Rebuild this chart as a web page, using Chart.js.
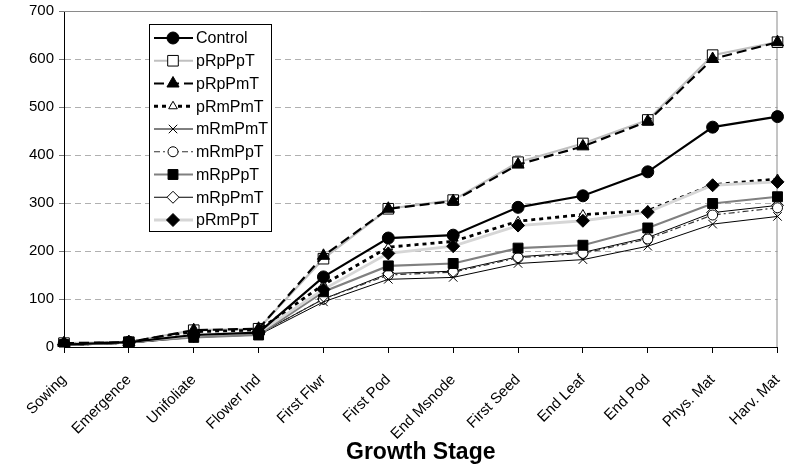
<!DOCTYPE html>
<html>
<head>
<meta charset="utf-8">
<script src="https://cdn.jsdelivr.net/npm/chart.js@4/dist/chart.umd.min.js"></script>
<style>
  html, body { margin: 0; padding: 0; background: #fff; }
  #wrap { width: 786px; height: 464px; }
</style>
</head>
<body>
<div id="wrap"><canvas id="growthChart" width="786" height="464"></canvas></div>
<script>
// growth stages along the x axis
var stages = ["Sowing", "Emergence", "Unifoliate", "Flower Ind", "First Flwr", "First Pod",
              "End Msnode", "First Seed", "End Leaf", "End Pod", "Phys. Mat", "Harv. Mat"];

// values, one array per treatment
var control = [5, 10, 25, 30, 146, 227, 233, 291, 315, 365, 458, 480];
var pRpPpT  = [8, 10, 35, 38, 184, 288, 306, 385, 424, 473, 608, 635];
var pRpPmT  = [8, 10, 35, 38, 190, 288, 304, 380, 418, 470, 600, 635];
var pRmPmT  = [5, 10, 32, 35, 130, 208, 220, 262, 276, 284, 338, 350];
var mRmPmT  = [3, 8, 20, 25, 94, 141, 145, 174, 182, 210, 256, 272];
var mRmPpT  = [3, 8, 22, 27, 100, 150, 156, 186, 195, 225, 275, 290];
var mRpPpT  = [5, 10, 20, 25, 115, 169, 174, 206, 212, 248, 299, 313];
var mRpPmT  = [3, 8, 22, 27, 100, 153, 158, 188, 197, 228, 280, 295];
var pRmPpT  = [5, 10, 25, 30, 120, 195, 210, 253, 263, 281, 337, 344];

var yTicks = [0, 100, 200, 300, 400, 500, 600, 700];

var FONT = "'Liberation Sans', Arial, sans-serif";

function series(label, data, o) {
    return {
        label: label,
        data: data,
        borderColor: o.color,
        borderWidth: o.width,
        borderDash: o.dash || [],
        pointStyle: o.point,
        pointRadius: o.radius,
        pointHoverRadius: o.radius,
        pointBackgroundColor: o.fill,
        pointBorderColor: "#000",
        pointBorderWidth: 1,
        fill: false,
        tension: 0,
        order: o.order
    };
}

var datasets = [
    series("Control", control, {color: "#000", width: 2.2, point: "circle", radius: 6, fill: "#000", order: 0}),
    series("pRpPpT", pRpPpT, {color: "#c0c0c0", width: 2.2, point: "rect", radius: 7.5, fill: "#fff", order: 5}),
    series("pRpPmT", pRpPmT, {color: "#000", width: 2.2, dash: [10, 5], point: "triangle", radius: 7, fill: "#000", order: 1}),
    series("pRmPmT", pRmPmT, {color: "#000", width: 2.8, dash: [4, 4], point: "triangle", radius: 5, fill: "#fff", order: 4}),
    series("mRmPmT", mRmPmT, {color: "#000", width: 1, point: "crossRot", radius: 6, fill: "#000", order: 6}),
    series("mRmPpT", mRmPpT, {color: "#333", width: 1.2, dash: [6, 3, 2, 3], point: "circle", radius: 5, fill: "#fff", order: 7}),
    series("mRpPpT", mRpPpT, {color: "#808080", width: 2.2, point: "rect", radius: 7, fill: "#000", order: 3}),
    series("mRpPmT", mRpPmT, {color: "#000", width: 1, point: "rectRot", radius: 6, fill: "#fff", order: 8}),
    series("pRmPpT", pRmPpT, {color: "#d6d6d6", width: 2.8, point: "rectRot", radius: 6.5, fill: "#000", order: 2})
];

// legend box drawn inside the plot, line sample with marker in the middle
var boxLegend = {
    id: "boxLegend",
    afterDraw: function(chart) {
        var ctx = chart.ctx;
        var x0 = 149, y0 = 24, w = 122, h = 207, rowH = 22.75;
        ctx.save();
        ctx.fillStyle = "#fff";
        ctx.fillRect(x0, y0, w, h);
        ctx.strokeStyle = "#000";
        ctx.lineWidth = 1;
        ctx.strokeRect(x0 + 0.5, y0 + 0.5, w, h);
        ctx.font = "16px " + FONT;
        ctx.textBaseline = "middle";
        chart.data.datasets.forEach(function(ds, i) {
            var y = y0 + 14 + i * rowH;
            ctx.save();
            ctx.strokeStyle = ds.borderColor;
            ctx.lineWidth = ds.borderWidth;
            ctx.setLineDash(ds.borderDash);
            ctx.beginPath();
            ctx.moveTo(154, y);
            ctx.lineTo(193, y);
            ctx.stroke();
            ctx.restore();
            ctx.save();
            ctx.fillStyle = ds.pointBackgroundColor;
            ctx.strokeStyle = ds.pointBorderColor;
            ctx.lineWidth = ds.pointBorderWidth;
            Chart.helpers.drawPoint(ctx, {pointStyle: ds.pointStyle, radius: ds.pointRadius, rotation: 0, borderWidth: 1}, 173, y);
            ctx.restore();
            ctx.fillStyle = "#000";
            ctx.fillText(ds.label, 196, y + 1);
        });
        ctx.restore();
    }
};

// grey frame on top and right of the plot
var plotFrame = {
    id: "plotFrame",
    beforeDatasetsDraw: function(chart) {
        var a = chart.chartArea, ctx = chart.ctx;
        ctx.save();
        ctx.strokeStyle = "#8a8a8a";
        ctx.lineWidth = 1;
        ctx.beginPath();
        ctx.moveTo(a.left, a.top + 0.5);
        ctx.lineTo(a.right - 0.5, a.top + 0.5);
        ctx.lineTo(a.right - 0.5, a.bottom);
        ctx.stroke();
        ctx.restore();
    }
};

new Chart(document.getElementById("growthChart"), {
    type: "line",
    data: { labels: stages, datasets: datasets },
    options: {
        responsive: false,
        animation: false,
        layout: { padding: { top: 11, right: 8, left: 0, bottom: 0 } },
        plugins: { legend: { display: false }, tooltip: { enabled: false } },
        scales: {
            x: {
                offset: false,
                grid: { drawOnChartArea: false, drawTicks: true, tickLength: 6, tickColor: "#000" },
                border: { color: "#000", width: 1 },
                ticks: {
                    color: "#000",
                    font: { family: FONT, size: 15 },
                    minRotation: 45, maxRotation: 45, autoSkip: false, padding: 18
                },
                title: {
                    display: true, text: "Growth Stage", color: "#000",
                    font: { family: FONT, size: 23, weight: "bold", lineHeight: 1 },
                    padding: { top: 4, bottom: 0 }
                },
                afterFit: function(s) {
                    s.height = 117;
                    s.paddingLeft = 0;
                    s.paddingRight = 0;
                }
            },
            y: {
                min: 0, max: 700,
                afterBuildTicks: function(s) { s.ticks = yTicks.map(function(v) { return { value: v }; }); },
                grid: { color: "#b0b0b0", lineWidth: 1, tickLength: 5, tickColor: "#777", tickBorderDash: [] },
                border: { color: "#000", width: 1, dash: [6, 4] },
                ticks: {
                    color: "#000", padding: 5,
                    font: { family: FONT, size: 15 }
                },
                afterFit: function(s) {
                    s.width = 64;
                    s.paddingTop = 0;
                    s.paddingBottom = 0;
                }
            }
        }
    },
    plugins: [plotFrame, boxLegend]
});
</script>
</body>
</html>
